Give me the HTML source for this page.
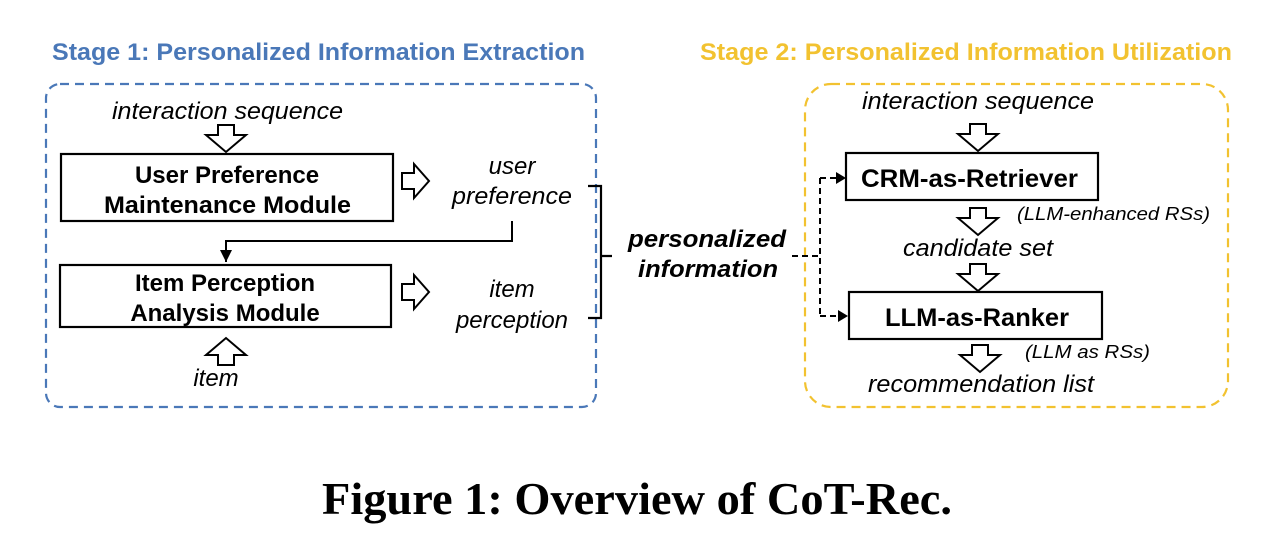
<!DOCTYPE html>
<html><head><meta charset="utf-8"><style>
html,body{margin:0;padding:0;background:#fff;}
svg{display:block;}
.s{font-family:"Liberation Sans",Arial,sans-serif;}
</style></head><body>
<svg width="1280" height="545" viewBox="0 0 1280 545" xmlns="http://www.w3.org/2000/svg">
<defs>
<marker id="ah2" markerWidth="14" markerHeight="14" refX="12" refY="7" orient="auto" markerUnits="userSpaceOnUse"><path d="M0,1 L12,7 L0,13 z" fill="#000"/></marker>
<g id="dn"><path d="M-8,0 H8 V10 H20 L0,27 L-20,10 H-8 Z" fill="#fff" stroke="#000" stroke-width="2"/></g>
<g id="rt"><path d="M0,-8 V8 H12 V17 L27,0 L12,-17 V-8 Z" fill="#fff" stroke="#000" stroke-width="2"/></g>
</defs>
<g class="s">
<text x="52" y="60" font-size="24" font-weight="bold" fill="#4a78b8" textLength="533" lengthAdjust="spacingAndGlyphs">Stage 1: Personalized Information Extraction</text>
<text x="700" y="60" font-size="24" font-weight="bold" fill="#f2c230" textLength="532" lengthAdjust="spacingAndGlyphs">Stage 2: Personalized Information Utilization</text>

<rect x="46" y="84" width="550" height="323" rx="14" fill="none" stroke="#4a78b8" stroke-width="2.2" stroke-dasharray="9,6"/>
<rect x="805" y="84" width="423" height="323" rx="26" fill="none" stroke="#f2c230" stroke-width="2.2" stroke-dasharray="9,6"/>

<text x="112" y="119" font-size="24" font-style="italic" textLength="231" lengthAdjust="spacingAndGlyphs">interaction sequence</text>
<use href="#dn" x="226" y="125"/>
<rect x="61" y="154" width="332" height="67" fill="#fff" stroke="#000" stroke-width="2.2"/>
<text x="227" y="183" font-size="24" font-weight="bold" text-anchor="middle">User Preference</text>
<text x="104" y="213" font-size="24" font-weight="bold" textLength="247" lengthAdjust="spacingAndGlyphs">Maintenance Module</text>
<use href="#rt" x="402" y="181"/>
<text x="512" y="174" font-size="24" font-style="italic" text-anchor="middle">user</text>
<text x="452" y="204" font-size="24" font-style="italic" textLength="120" lengthAdjust="spacingAndGlyphs">preference</text>
<path d="M512,221 V241 H226 V262" fill="none" stroke="#000" stroke-width="2" marker-end="url(#ah2)"/>
<rect x="60" y="265" width="331" height="62" fill="#fff" stroke="#000" stroke-width="2.2"/>
<text x="225" y="291" font-size="24" font-weight="bold" text-anchor="middle">Item Perception</text>
<text x="225" y="321" font-size="24" font-weight="bold" text-anchor="middle">Analysis Module</text>
<use href="#rt" x="402" y="292"/>
<text x="512" y="297" font-size="24" font-style="italic" text-anchor="middle">item</text>
<text x="512" y="328" font-size="24" font-style="italic" text-anchor="middle">perception</text>
<use href="#dn" x="0" y="0" transform="translate(226,365) scale(1,-1)"/>
<text x="216" y="386" font-size="24" font-style="italic" text-anchor="middle">item</text>

<path d="M588,186 H601 V318 H588 M601,256 H612" fill="none" stroke="#000" stroke-width="2.2"/>
<text x="628" y="247" font-size="24" font-weight="bold" font-style="italic" textLength="158" lengthAdjust="spacingAndGlyphs">personalized</text>
<text x="638" y="277" font-size="24" font-weight="bold" font-style="italic" textLength="140" lengthAdjust="spacingAndGlyphs">information</text>

<path d="M792,256 H820 M820,178 V318 M820,178 H843 M820,316 H845" fill="none" stroke="#000" stroke-width="2" stroke-dasharray="6,4"/>
<path d="M836,172 L846,178 L836,184 z M838,310 L848,316 L838,322 z" fill="#000"/>

<text x="862" y="109" font-size="24" font-style="italic" textLength="232" lengthAdjust="spacingAndGlyphs">interaction sequence</text>
<use href="#dn" x="978" y="124"/>
<rect x="846" y="153" width="252" height="47" fill="#fff" stroke="#000" stroke-width="2.2"/>
<text x="861" y="187" font-size="25" font-weight="bold" textLength="217" lengthAdjust="spacingAndGlyphs">CRM-as-Retriever</text>
<use href="#dn" x="978" y="208"/>
<text x="1017" y="220" font-size="18" font-style="italic" textLength="193" lengthAdjust="spacingAndGlyphs">(LLM-enhanced RSs)</text>
<text x="903" y="256" font-size="24" font-style="italic" textLength="150" lengthAdjust="spacingAndGlyphs">candidate set</text>
<use href="#dn" x="978" y="264"/>
<rect x="849" y="292" width="253" height="47" fill="#fff" stroke="#000" stroke-width="2.2"/>
<text x="885" y="326" font-size="25" font-weight="bold" textLength="184" lengthAdjust="spacingAndGlyphs">LLM-as-Ranker</text>
<use href="#dn" x="980" y="345"/>
<text x="1025" y="358" font-size="18" font-style="italic" textLength="125" lengthAdjust="spacingAndGlyphs">(LLM as RSs)</text>
<text x="868" y="392" font-size="24" font-style="italic" textLength="226" lengthAdjust="spacingAndGlyphs">recommendation list</text>
</g>
<text x="322" y="514" font-family="'Liberation Serif',serif" font-size="46" font-weight="bold" textLength="630" lengthAdjust="spacingAndGlyphs">Figure 1: Overview of CoT-Rec.</text>
</svg>
</body></html>
